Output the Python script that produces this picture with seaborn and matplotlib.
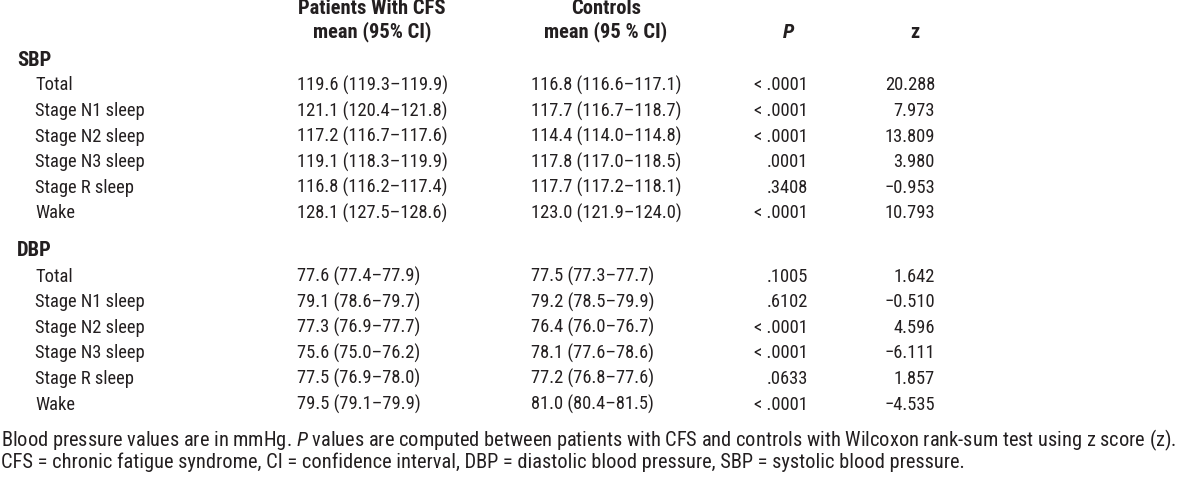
import matplotlib
matplotlib.use("Agg")
import matplotlib.pyplot as plt
import seaborn as sns

# table content
groups = ["SBP", "DBP"]
row_labels = ["Total", "Stage N1 sleep", "Stage N2 sleep", "Stage N3 sleep", "Stage R sleep", "Wake"]

cfs_mean = {
    "SBP": ["119.6 (119.3\u2013119.9)", "121.1 (120.4\u2013121.8)", "117.2 (116.7\u2013117.6)",
            "119.1 (118.3\u2013119.9)", "116.8 (116.2\u2013117.4)", "128.1 (127.5\u2013128.6)"],
    "DBP": ["77.6 (77.4\u201377.9)", "79.1 (78.6\u201379.7)", "77.3 (76.9\u201377.7)",
            "75.6 (75.0\u201376.2)", "77.5 (76.9\u201378.0)", "79.5 (79.1\u201379.9)"],
}
ctrl_mean = {
    "SBP": ["116.8 (116.6\u2013117.1)", "117.7 (116.7\u2013118.7)", "114.4 (114.0\u2013114.8)",
            "117.8 (117.0\u2013118.5)", "117.7 (117.2\u2013118.1)", "123.0 (121.9\u2013124.0)"],
    "DBP": ["77.5 (77.3\u201377.7)", "79.2 (78.5\u201379.9)", "76.4 (76.0\u201376.7)",
            "78.1 (77.6\u201378.6)", "77.2 (76.8\u201377.6)", "81.0 (80.4\u201381.5)"],
}
p_values = {
    "SBP": ["< .0001", "< .0001", "< .0001", ".0001", ".3408", "< .0001"],
    "DBP": [".1005", ".6102", "< .0001", "< .0001", ".0633", "< .0001"],
}
z_scores = {
    "SBP": ["20.288", "7.973", "13.809", "3.980", "\u22120.953", "10.793"],
    "DBP": ["1.642", "\u22120.510", "4.596", "\u22126.111", "1.857", "\u22124.535"],
}
footnotes = [
    "Blood pressure values are in mmHg. $\\it{P}$ values are computed between patients with CFS and controls with Wilcoxon rank-sum test using z score (z).",
    "CFS = chronic fatigue syndrome, CI = confidence interval, DBP = diastolic blood pressure, SBP = systolic blood pressure.",
]

sns.set_theme(style="white")
font = "Roboto Condensed"
plt.rcParams["font.family"] = [font, "DejaVu Sans"]
plt.rcParams["mathtext.fontset"] = "custom"
plt.rcParams["mathtext.it"] = font + ":italic"
plt.rcParams["mathtext.rm"] = font

fig = plt.figure(figsize=(12, 4.88), dpi=100)
ax = fig.add_axes([0, 0, 1, 1])
ax.set_xlim(0, 1200)
ax.set_ylim(488, 0)
ax.axis("off")
ink = "#231f20"

renderer = fig.canvas.get_renderer()


def fit_size(s, target, **kw):
    # font size that gives the string the reference's width in pixels
    t = ax.text(0, 0, s, fontsize=14, **kw)
    w = t.get_window_extent(renderer).width
    t.remove()
    return 14 * target / w


fs = fit_size(ctrl_mean["SBP"][0], 152)
fs_head = fit_size("Patients With CFS", 148, fontweight="bold")
fs_note = fit_size(footnotes[0], 1181)

txt = dict(fontsize=fs, color=ink, va="center")
bold = dict(fontsize=fs_head, color=ink, va="center", fontweight="bold")

# header
ax.text(372, 9, "Patients With CFS", ha="center", **bold)
ax.text(372, 32, "mean (95% CI)", ha="center", **bold)
ax.text(606, 9, "Controls", ha="center", **bold)
ax.text(606, 32, "mean (95 % CI)", ha="center", **bold)
ax.text(789, 32, "P", ha="center", fontstyle="italic", **bold)
ax.text(915, 32, "z", ha="center", **bold)

group_y = {"SBP": 60, "DBP": 251}
row_step = 25.6
for g in groups:
    y0 = group_y[g]
    ax.text(17, y0, g, ha="left", **bold)
    for i, lab in enumerate(row_labels):
        y = y0 + 25.5 + i * row_step
        ax.text(35, y, lab, ha="left", **txt)
        ax.text(297, y, cfs_mean[g][i], ha="left", **txt)
        ax.text(531, y, ctrl_mean[g][i], ha="left", **txt)
        ax.text(808, y, p_values[g][i], ha="right", **txt)
        ax.text(935, y, z_scores[g][i], ha="right", **txt)

ax.text(1, 440, footnotes[0], ha="left", fontsize=fs_note, color=ink, va="center")
ax.text(1, 462, footnotes[1], ha="left", fontsize=fs_note, color=ink, va="center")

fig.savefig("out.png", dpi=100)
